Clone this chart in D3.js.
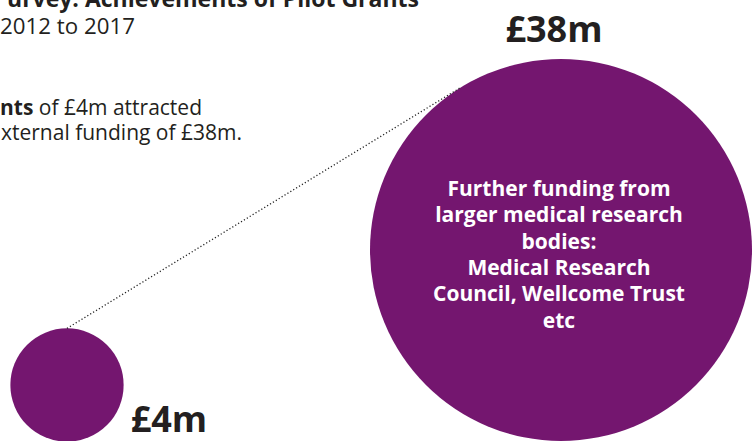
<!DOCTYPE html>
<html>
<head>
<meta charset="utf-8">
<script src="https://cdn.jsdelivr.net/npm/d3@7"></script>
<style>
  html, body { margin: 0; padding: 0; background: #fff; }
  svg { display: block; }
  text { font-family: "Open Sans", "Noto Sans", sans-serif; }
</style>
</head>
<body>
<svg id="chart" width="754" height="441"></svg>
<script>
// Funding amounts (£m) and their labels
const amounts = [4, 38];
const amountLabels = ["£4m", "£38m"];
const bigCircleLines = [
  "Further funding from",
  "larger medical research",
  "bodies:",
  "Medical Research",
  "Council, Wellcome Trust",
  "etc"
];
const titleBold = "urvey: Achievements of Pilot Grants";
const titleSub = "2012 to 2017";
const summaryLine1 = [{ t: "nts", bold: true }, { t: " of £4m attracted", bold: false }];
const summaryLine2 = "xternal funding of £38m.";

const purple = "#74166f";
const ink = "#231f20";

const svg = d3.select("#chart");

// Circle radius scale
const r = d3.scalePow().exponent(0.54).domain([0, 38]).range([0, 191]);

// Circle centres
const centres = [
  { x: 67, y: 385 },
  { x: 561, y: 250 }
];

const nodes = amounts.map((v, i) => ({ value: v, label: amountLabels[i], cx: centres[i].x, cy: centres[i].y, r: r(v) }));
const small = nodes[0], big = nodes[1];

svg.selectAll("circle.amount")
  .data(nodes)
  .join("circle")
  .attr("class", "amount")
  .attr("cx", d => d.cx)
  .attr("cy", d => d.cy)
  .attr("r", d => d.r)
  .attr("fill", purple);

// Dotted connector: from the top of the small circle, tangent to the large one
const px = small.cx, py = small.cy - small.r;
const dx = big.cx - px, dy = big.cy - py;
const dist = Math.hypot(dx, dy);
const tLen = Math.sqrt(dist * dist - big.r * big.r);
const base = Math.atan2(dy, dx);
const off = Math.asin(big.r / dist);
const dirA = base - off; // upper tangent
svg.append("line")
  .attr("x1", px).attr("y1", py)
  .attr("x2", px + tLen * Math.cos(dirA))
  .attr("y2", py + tLen * Math.sin(dirA))
  .attr("stroke", "#222")
  .attr("stroke-width", 1.3)
  .attr("stroke-dasharray", "1.2,2.2");

// Amount labels
svg.append("text")
  .attr("x", small.cx + small.r + 7)
  .attr("y", 432)
  .attr("font-size", 36).attr("font-weight", 700)
  .attr("fill", ink)
  .text(small.label);

svg.append("text")
  .attr("x", 554)
  .attr("y", 42)
  .attr("text-anchor", "middle")
  .attr("font-size", 36).attr("font-weight", 700)
  .attr("fill", ink)
  .text(big.label);

// Text inside the large circle
svg.append("g")
  .selectAll("text")
  .data(bigCircleLines)
  .join("text")
  .attr("x", 559)
  .attr("y", (d, i) => 196 + i * 26.3)
  .attr("text-anchor", "middle")
  .attr("font-size", 21).attr("font-weight", 700)
  .attr("fill", "#fff")
  .text(d => d);

// Heading and summary
svg.append("text")
  .attr("x", 419).attr("y", 7)
  .attr("text-anchor", "end")
  .attr("font-size", 23).attr("font-weight", 700)
  .attr("fill", ink)
  .text(titleBold);

svg.append("text")
  .attr("x", 135).attr("y", 34)
  .attr("text-anchor", "end")
  .attr("font-size", 22.3)
  .attr("fill", ink)
  .text(titleSub);

const s1 = svg.append("text")
  .attr("x", 202).attr("y", 115)
  .attr("text-anchor", "end")
  .attr("font-size", 21)
  .attr("fill", ink);
s1.selectAll("tspan")
  .data(summaryLine1)
  .join("tspan")
  .attr("font-weight", d => d.bold ? 700 : 400)
  .text(d => d.t);

svg.append("text")
  .attr("x", 242).attr("y", 140)
  .attr("text-anchor", "end")
  .attr("font-size", 21)
  .attr("fill", ink)
  .text(summaryLine2);
</script>
</body>
</html>
